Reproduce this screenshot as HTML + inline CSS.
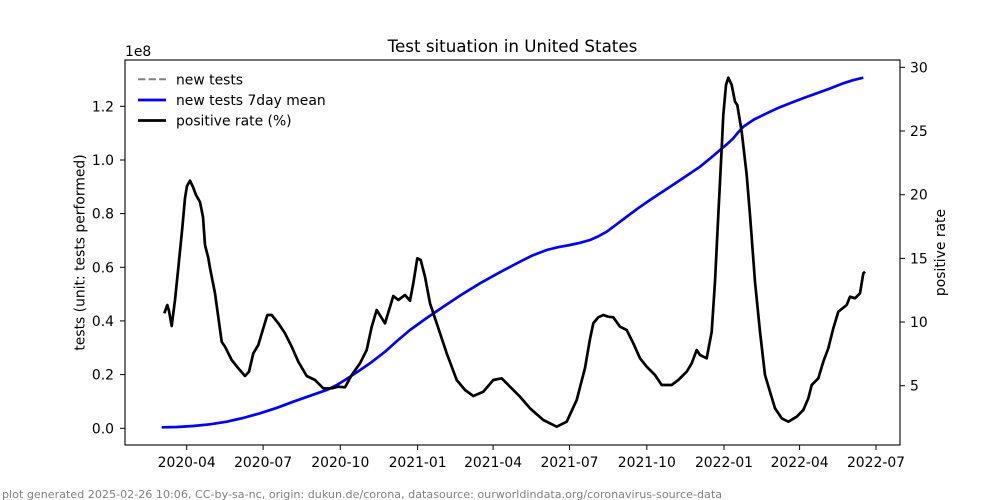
<!DOCTYPE html>
<html><head><meta charset="utf-8"><style>
html,body{margin:0;padding:0;background:#fff;}
svg{display:block;}
text{font-family:"DejaVu Sans","Liberation Sans",sans-serif;fill:#000;}
</style></head><body>
<svg width="1000" height="500" viewBox="0 0 1000 500" xmlns="http://www.w3.org/2000/svg">
<rect width="1000" height="500" fill="#fff"/>
<text x="512.5" y="52" font-size="16.7" text-anchor="middle">Test situation in United States</text>
<text x="125" y="56" font-size="13.9">1e8</text>

<!-- series -->
<polyline fill="none" stroke="#0000ff" stroke-width="2.7" stroke-linejoin="round" stroke-linecap="butt" points="161.7,427.3 177,427 193.3,426 210,424.3 226.7,421.7 243,418 260,413.3 277,407.8 293.3,401.7 310,395.8 326.7,390 336,385.5 345,380 358,371.5 370,363.3 385,351.7 397,341 410,330 426,318.5 443.3,306.7 461,295 480,283.3 500,272.2 520,261.7 533,255.2 546.7,250 558,247.2 570,245 580,242.8 590,240 598,236.5 606.7,231.7 616,224.8 626.7,216.7 638,208.3 650,200 675,183.5 700,166.7 710,158.6 720,150 727,144.2 733.3,138.3 738,132.5 743.3,126.7 754,119.5 766.7,113.3 778,108 790,103.3 803,98.3 816.7,93.3 830,88.5 843.3,83.3 853,80.2 863.3,77.7"/>
<polyline fill="none" stroke="#000" stroke-width="2.7" stroke-linejoin="round" stroke-linecap="butt" points="164.3,313.3 167.3,305 169,311 171.7,326 175,300 178.3,268 182.3,228 185,198 187,186 190,180.7 193,187 196,195 200,202 203,217 205,245 208.3,258 210,268 215,293.3 221.7,341.7 225,346.7 231.7,360 238.3,368.3 245,376 249,371.7 253.3,353.3 258.3,345 263.3,328.3 267.3,315 271.7,315 278.3,323.3 285,333.3 291.7,346.7 298.3,361.7 306.7,376 315,380 323.3,388.3 331.7,388.3 338.3,386.7 345,387.3 351.7,375 360,363.3 366.7,350 371.7,326.7 376.7,310 385,323.3 393.3,296 398.3,300 405,295 410,300.7 413.3,283.3 417.3,258.3 420.7,260 425,276.7 430,303.3 436.7,323.3 446.7,353.3 456.7,380 465,390 473.3,396 483.3,391.7 493.3,380 501.7,378.3 510,386.7 520,396.7 530,408.3 543.3,420 556.7,426.7 566.7,421.7 576.7,400 585,368 590,339 593.3,323.3 598.3,317.3 603.3,315 608.3,316.7 613.3,317.3 620,326.7 626.7,330 633.3,343.3 640,358.3 646.7,366.7 655,375 661.7,385 671.7,385 678.3,380 686.7,371.7 691.7,363.3 696.7,350 700,355 706.7,358.3 711.7,331.7 715,281.7 718.3,215 721.7,148.3 723.3,115 726,85 728.3,77.7 731.7,85 735,101.7 737.3,105 741.7,131.7 746.7,175 750,215 755,281.7 760,331.7 765,375 770,391.7 775,408.3 781.7,418.3 788.3,421.7 796.7,416.7 803.3,410 808.3,398.3 811.7,385 818.3,378.3 823.3,361.7 828.3,348.3 833.3,328.3 838.3,311.7 846.7,305 850,296.7 855,298.3 860,293.3 863.3,273.3 865,271.7"/>

<!-- axes frame -->
<rect x="125" y="60" width="775" height="385" fill="none" stroke="#000" stroke-width="1.1"/>

<!-- left ticks -->
<g stroke="#000" stroke-width="1">
<line x1="120" y1="428.3" x2="125" y2="428.3"/>
<line x1="120" y1="374.6" x2="125" y2="374.6"/>
<line x1="120" y1="320.9" x2="125" y2="320.9"/>
<line x1="120" y1="267.3" x2="125" y2="267.3"/>
<line x1="120" y1="213.6" x2="125" y2="213.6"/>
<line x1="120" y1="160" x2="125" y2="160"/>
<line x1="120" y1="106.3" x2="125" y2="106.3"/>
</g>
<g font-size="13.9" text-anchor="end">
<text x="114" y="433.3">0.0</text>
<text x="114" y="379.6">0.2</text>
<text x="114" y="325.9">0.4</text>
<text x="114" y="272.3">0.6</text>
<text x="114" y="218.6">0.8</text>
<text x="114" y="165">1.0</text>
<text x="114" y="111.3">1.2</text>
</g>

<!-- right ticks -->
<g stroke="#000" stroke-width="1">
<line x1="900" y1="67.3" x2="905" y2="67.3"/>
<line x1="900" y1="131" x2="905" y2="131"/>
<line x1="900" y1="194.7" x2="905" y2="194.7"/>
<line x1="900" y1="258.4" x2="905" y2="258.4"/>
<line x1="900" y1="322" x2="905" y2="322"/>
<line x1="900" y1="385.7" x2="905" y2="385.7"/>
</g>
<g font-size="13.9" text-anchor="start">
<text x="910" y="72.3">30</text>
<text x="910" y="136">25</text>
<text x="910" y="199.7">20</text>
<text x="910" y="263.4">15</text>
<text x="910" y="327">10</text>
<text x="910" y="390.7">5</text>
</g>

<!-- x ticks -->
<g stroke="#000" stroke-width="1">
<line x1="186.7" y1="445" x2="186.7" y2="450"/>
<line x1="263.1" y1="445" x2="263.1" y2="450"/>
<line x1="340.3" y1="445" x2="340.3" y2="450"/>
<line x1="417.6" y1="445" x2="417.6" y2="450"/>
<line x1="493.1" y1="445" x2="493.1" y2="450"/>
<line x1="569.5" y1="445" x2="569.5" y2="450"/>
<line x1="646.8" y1="445" x2="646.8" y2="450"/>
<line x1="724" y1="445" x2="724" y2="450"/>
<line x1="799.6" y1="445" x2="799.6" y2="450"/>
<line x1="876" y1="445" x2="876" y2="450"/>
</g>
<g font-size="13.9" text-anchor="middle">
<text x="186.7" y="467">2020-04</text>
<text x="263.1" y="467">2020-07</text>
<text x="340.3" y="467">2020-10</text>
<text x="417.6" y="467">2021-01</text>
<text x="493.1" y="467">2021-04</text>
<text x="569.5" y="467">2021-07</text>
<text x="646.8" y="467">2021-10</text>
<text x="724" y="467">2022-01</text>
<text x="799.6" y="467">2022-04</text>
<text x="876" y="467">2022-07</text>
</g>

<!-- axis labels -->
<text font-size="13.9" text-anchor="middle" transform="translate(84.5,252.5) rotate(-90)">tests (unit: tests performed)</text>
<text font-size="13.9" text-anchor="middle" transform="translate(945,252.5) rotate(-90)">positive rate</text>

<!-- legend -->
<line x1="138" y1="79.3" x2="166" y2="79.3" stroke="#808080" stroke-width="2" stroke-dasharray="7.4,3.2"/>
<line x1="138" y1="100" x2="166" y2="100" stroke="#0000ff" stroke-width="2.7"/>
<line x1="138" y1="120.5" x2="166" y2="120.5" stroke="#000" stroke-width="2.7"/>
<g font-size="13.9">
<text x="176" y="84.3">new tests</text>
<text x="176" y="105">new tests 7day mean</text>
<text x="176" y="125.5">positive rate (%)</text>
</g>

<!-- footer -->
<text x="2" y="498" font-size="11" fill="#808080" style="fill:#808080" textLength="720" lengthAdjust="spacingAndGlyphs">plot generated 2025-02-26 10:06, CC-by-sa-nc, origin: dukun.de/corona, datasource: ourworldindata.org/coronavirus-source-data</text>
</svg>
</body></html>
